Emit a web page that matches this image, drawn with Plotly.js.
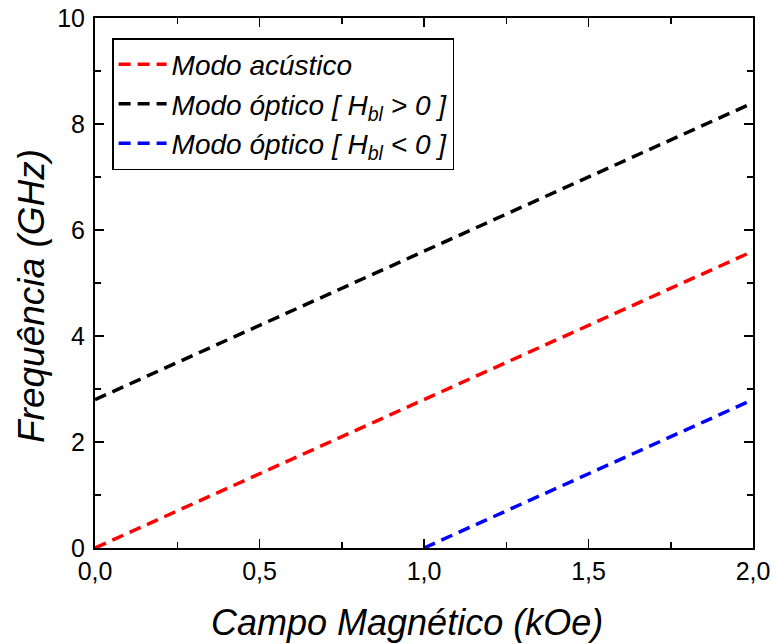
<!DOCTYPE html>
<html>
<head>
<meta charset="utf-8">
<script src="https://cdn.plot.ly/plotly-3.0.1.min.js"></script>
<style>html,body{margin:0;padding:0;background:#fff;}</style>
</head>
<body>
<div id="chart" style="width:774px;height:644px;"></div>
<script>
// Data
const acousticX = [0.0, 2.0];
const acousticY = [0.0, 5.6];
const opticPosX = [0.0, 2.0];
const opticPosY = [2.8, 8.4];
const opticNegX = [1.0, 2.0];
const opticNegY = [0.0, 2.8];
const seriesNames = [
  "<i>Modo acústico</i>",
  "<i>Modo óptico [ H<sub>bl</sub> > 0 ]</i>",
  "<i>Modo óptico [ H<sub>bl</sub> < 0 ]</i>"
];
const xTitle = "<i>Campo Magnético (kOe)</i>";
const yTitle = "<i>Frequência (GHz)</i>";
const xTickVals = [0, 0.5, 1.0, 1.5, 2.0];
const yTickVals = [0, 2, 4, 6, 8, 10];

const font = "Liberation Sans, Arial, sans-serif";
const line = (c) => ({color: c, width: 3.5, dash: "12px,7px"});

const traces = [
  {x: acousticX, y: acousticY, mode: "lines", name: seriesNames[0], line: line("#ff0000")},
  {x: opticPosX, y: opticPosY, mode: "lines", name: seriesNames[1], line: line("#000000")},
  {x: opticNegX, y: opticNegY, mode: "lines", name: seriesNames[2], line: line("#0000ff")}
];

const axisCommon = {
  showgrid: false, zeroline: false, showline: true, mirror: "ticks",
  linecolor: "#000", linewidth: 2, ticks: "inside", ticklen: 9, tickwidth: 1.5,
  tickcolor: "#000", tickfont: {family: font, size: 25, color: "#000"}
};

const layout = {
  width: 774, height: 644,
  margin: {l: 95, r: 21, t: 18, b: 96},
  paper_bgcolor: "#fff", plot_bgcolor: "#fff",
  separators: ",.",
  showlegend: true,
  legend: {
    x: 0.026, y: 0.962, xanchor: "left", yanchor: "top",
    bordercolor: "#000", borderwidth: 1.5, bgcolor: "#fff",
    font: {family: font, size: 28, color: "#000"},
    tracegroupgap: 0, itemwidth: 48
  },
  xaxis: Object.assign({}, axisCommon, {
    range: [0, 2], tickvals: xTickVals, tickformat: ".1f",
    minor: {dtick: 0.25, ticks: "inside", ticklen: 6, tickwidth: 1.5, tickcolor: "#000"}
  }),
  yaxis: Object.assign({}, axisCommon, {
    range: [0, 10], tickvals: yTickVals, ticklabelstandoff: 3,
    minor: {dtick: 1, ticks: "inside", ticklen: 6, tickwidth: 1.5, tickcolor: "#000"}
  }),
  annotations: [
    {text: xTitle, xref: "paper", yref: "paper", x: 0.474, y: 0, xanchor: "center", yanchor: "middle",
     yshift: -74, showarrow: false, font: {family: font, size: 36, color: "#000"}},
    {text: yTitle, xref: "paper", yref: "paper", x: 0, y: 0.4755, xanchor: "center", yanchor: "middle",
     xshift: -63, textangle: -90, showarrow: false, font: {family: font, size: 37, color: "#000"}}
  ]
};

Plotly.newPlot("chart", traces, layout, {displayModeBar: false, staticPlot: true});
</script>
</body>
</html>
